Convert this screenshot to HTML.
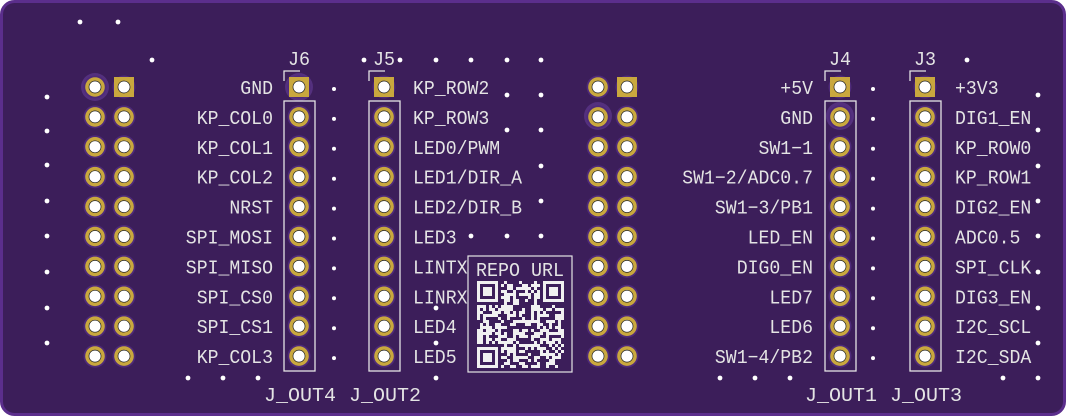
<!DOCTYPE html>
<html><head><meta charset="utf-8"><style>
html,body{margin:0;padding:0;background:#fff;width:1066px;height:416px;overflow:hidden}
svg text{font-family:"Liberation Mono",monospace;font-size:19.5px;fill:#e4e4e4}
</style></head><body>
<svg id="s" width="1066" height="416" xmlns="http://www.w3.org/2000/svg">
<rect x="1.5" y="1.5" width="1063" height="413" rx="13" fill="#3c1e5a" stroke="#5b2e8c" stroke-width="3"/>
<g id="g"></g>
</svg>
<script>
const NS="http://www.w3.org/2000/svg",g=document.getElementById('g');
function el(t,a,txt){const e=document.createElementNS(NS,t);for(const k in a)e.setAttribute(k,a[k]);if(txt!==undefined)e.textContent=txt;g.appendChild(e);return e;}
function tx(x,y,s,anchor,w){const a={x:x,y:y,textLength:(s.length*(w||10.9)).toFixed(1),lengthAdjust:'spacingAndGlyphs'};if(anchor)a['text-anchor']=anchor;return el('text',a,s);}
const rows=[];for(let i=0;i<10;i++)rows.push(87+i*29.9);
[[95,87],[598,116],[299,87],[840,116]].forEach(p=>el('circle',{cx:p[0],cy:p[1],r:14,fill:'#54307e'}));
function pad(x,y,sq){
 el('circle',{cx:x,cy:y,r:11.5,fill:'#4e2a7a'});
 if(sq)el('rect',{x:x-10,y:y-10,width:20,height:20,fill:'#c9a83e'});
 else el('circle',{cx:x,cy:y,r:9.8,fill:'#c9a83e'});
 el('circle',{cx:x,cy:y,r:6,fill:'#fff',stroke:'#222','stroke-width':0.7});
}
rows.forEach((y,i)=>{pad(95,y,false);pad(124,y,i==0);pad(598,y,false);pad(627,y,i==0);
 pad(299,y,i==0);pad(384,y,i==0);pad(840,y,i==0);pad(925,y,i==0);});
[284,369,825,910].forEach(x=>{
 el('rect',{x:x,y:101,width:31,height:270,fill:'none',stroke:'#e4e4e4','stroke-width':1.3});
 el('path',{d:`M${x} 81 V71 H${x+16}`,fill:'none',stroke:'#e4e4e4','stroke-width':1.3});
});
[['J6',299],['J5',384],['J4',840],['J3',925]].forEach(h=>tx(h[1],65,h[0],'middle',11));
const L6=['GND','KP_COL0','KP_COL1','KP_COL2','NRST','SPI_MOSI','SPI_MISO','SPI_CS0','SPI_CS1','KP_COL3'];
const L5=['KP_ROW2','KP_ROW3','LED0/PWM','LED1/DIR_A','LED2/DIR_B','LED3','LINTX','LINRX','LED4','LED5'];
const L4=['+5V','GND','SW1\u22121','SW1\u22122/ADC0.7','SW1\u22123/PB1','LED_EN','DIG0_EN','LED7','LED6','SW1\u22124/PB2'];
const L3=['+3V3','DIG1_EN','KP_ROW0','KP_ROW1','DIG2_EN','ADC0.5','SPI_CLK','DIG3_EN','I2C_SCL','I2C_SDA'];
rows.forEach((y,i)=>{
 tx(273,y+7,L6[i],'end');
 tx(413,y+7,L5[i]);
 tx(813,y+7,L4[i],'end');
 tx(955,y+7,L3[i]);
 el('circle',{cx:334,cy:y+2,r:2,fill:'#fff'});
 el('circle',{cx:873,cy:y+2,r:2,fill:'#fff'});
});
tx(300,401,'J_OUT4','middle',12);
tx(385,401,'J_OUT2','middle',12);
tx(841,401,'J_OUT1','middle',12);
tx(926,401,'J_OUT3','middle',12);
const V=[[80,22],[118,22],[152,60],[364,60],[400,60],[436,60],[471,60],[507,60],[541,60],[967,60],
[507,95],[541,95],[507,130],[541,130],[541,166],[541,201],[471,236],[507,236],[541,236],
[436,308],[436,343],[436,378],[188,378],[223,378],[258,378],[720,378],[755,378],[790,378],[1003,378]];
[97,131,165,201,236,272,308,343].forEach(y=>V.push([47,y]));
[95,130,166,201,236,272,308,343,378].forEach(y=>V.push([1038,y]));
V.forEach(p=>el('circle',{cx:p[0],cy:p[1],r:2.4,fill:'#fff'}));
el('rect',{x:468,y:256,width:104,height:116,fill:'none',stroke:'#e4e4e4','stroke-width':1.2});
tx(520,276,'REPO URL','middle',11);
const qx=477,qy=281,n=29,c=3;let seed=12345;function rnd(){seed=(seed*1103515245+12345)&0x7fffffff;return seed/0x7fffffff;}
let d='';
function fin(a,b){return a<7&&b<7;}
for(let r=0;r<n;r++)for(let k=0;k<n;k++){
 let on;
 const inF=(fin(r,k)||fin(r,n-1-k)||fin(n-1-r,k));
 if(inF){let rr=r<7?r:n-1-r,kk=k<7?k:n-1-k;on=(rr==0||rr==6||kk==0||kk==6)||(rr>=2&&rr<=4&&kk>=2&&kk<=4);}
 else if((r==7&&(k<8||k>n-9))||(k==7&&(r<8||r>n-9))||(r==n-8&&k<8)||(k==n-8&&r<8))on=false;
 else on=rnd()<0.52;
 if(on)d+=`M${qx+k*c} ${qy+r*c}h${c}v${c}h-${c}z`;
}
el('path',{d:d,fill:'#f0f0f0'});
</script>
</body></html>
